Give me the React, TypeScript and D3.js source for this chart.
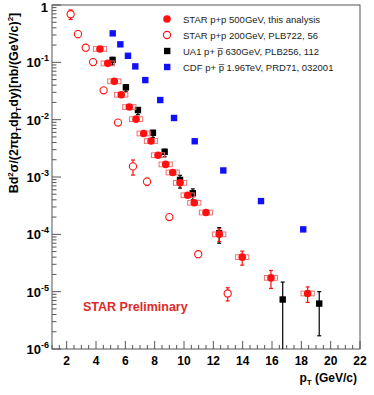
import React from "react";
import * as d3 from "d3";

// STAR p+p 500 GeV (filled red circles)
const star500Pt = [4.27, 4.8, 5.25, 5.72, 6.27, 6.73, 7.25, 7.75, 8.23, 8.75, 9.23, 9.73, 10.25, 10.7, 11.5, 12.4, 13.97, 15.93, 18.43];
const star500Y = [0.171, 0.096, 0.0466, 0.0272, 0.0166, 0.0102, 0.00575, 0.00424, 0.0024, 0.00166, 0.0012, 0.00079, 0.00048, 0.000355, 0.00024, 0.0001, 4.0e-5, 1.74e-5, 9.3e-6];
const star500Err = [0.01, 0.005, 0.002, 0.0012, 0.0007, 0.0004, 0.0002, 0.00015, 0.0001, 0.00007, 0.00005, 0.00004, 0.00003, 0.00002, 0.000015, 0.000025, 1.1e-5, 6e-6, 2.8e-6];

// STAR p+p 200 GeV (open red circles)
const star200Pt = [2.27, 2.77, 3.3, 3.8, 4.52, 5.5, 6.52, 7.48, 9.0, 10.97, 12.98];
const star200Y = [0.69, 0.31, 0.18, 0.101, 0.0325, 0.0089, 0.00153, 0.00083, 0.0002, 4.5e-5, 9.3e-6];
const star200Err = [0.13, 0.04, 0.01, 0.005, 0.0015, 0.0005, 0.00045, 0.00012, 0.00001, 2e-6, 2.4e-6];

// UA1 p+pbar 630 GeV (black squares)
const ua1Pt = [5.13, 6.04, 6.86, 7.88, 8.68, 9.73, 10.6, 12.4, 16.73, 19.22];
const ua1Y = [0.11, 0.0366, 0.0147, 0.0059, 0.00275, 0.00089, 0.00052, 0.000104, 7.3e-6, 6.2e-6];
const ua1ErrUp = [0.012, 0.004, 0.0016, 0.0006, 0.0003, 0.00018, 0.0001, 0.000027, 7.4e-6, 3.8e-6];
const ua1ErrDown = [0.02, 0.006, 0.0025, 0.001, 0.0005, 0.00025, 0.00012, 0.000034, 7.3e-6, 4.5e-6];

// CDF p+pbar 1.96 TeV (blue squares)
const cdfPt = [5.14, 5.66, 6.18, 6.68, 7.36, 8.38, 9.32, 10.73, 12.68, 15.25, 18.13];
const cdfY = [0.32, 0.206, 0.13, 0.085, 0.049, 0.022, 0.0107, 0.0042, 0.0013, 0.00038, 0.000122];

const xTicks = [2, 4, 6, 8, 10, 12, 14, 16, 18, 20, 22];
const yTicks = [0, -1, -2, -3, -4, -5, -6];

const legendLabels = [
  "STAR p+p 500GeV, this analysis",
  "STAR p+p 200GeV, PLB722, 56",
  "UA1 p+ p\u0305 630GeV, PLB256, 112",
  "CDF p+ p\u0305 1.96TeV, PRD71, 032001",
];

const W = 374;
const H = 395;
const left = 52, right = 360, top = 5, bottom = 349;
const font = "'Liberation Sans', Arial, sans-serif";
const red = "#ff1010";
const axisCol = "#555";

export default function App() {
  const x = d3.scaleLinear().domain([1, 22]).range([left, right]);
  const y = d3.scaleLog().domain([1e-6, 1]).range([bottom, top]).clamp(true);

  const minorX = d3.range(1, 22.01, 0.5).filter((v) => v % 2 !== 0);
  const minorY: number[] = [];
  for (let e = -6; e < 0; e++) for (let k = 2; k <= 9; k++) minorY.push(k * Math.pow(10, e));

  const box = (pt: number, v: number, key: string) => (
    <rect key={key} x={x(pt - 0.45)} y={y(v * 1.1)} width={x(pt + 0.45) - x(pt - 0.45)}
      height={y(v / 1.1) - y(v * 1.1)} fill="none" stroke="#f07070" strokeWidth={1} />
  );

  const vbar = (px: number, yUp: number, yDown: number, color: string, key: string) => (
    <g key={key} stroke={color} strokeWidth={1.2}>
      <line x1={px} x2={px} y1={y(yUp)} y2={y(Math.max(yDown, 1e-7))} />
      <line x1={px - 2} x2={px + 2} y1={y(yUp)} y2={y(yUp)} />
      {yDown > 1e-6 && <line x1={px - 2} x2={px + 2} y1={y(yDown)} y2={y(yDown)} />}
    </g>
  );

  return (
    <svg width={W} height={H} style={{ position: "absolute", left: 0, top: 0, background: "#fff" }} fontFamily={font}>
      <defs>
        <clipPath id="plot"><rect x={left} y={top} width={right - left} height={bottom - top} /></clipPath>
      </defs>
      {/* frame */}
      <rect x={left} y={top} width={right - left} height={bottom - top} fill="none" stroke={axisCol} strokeWidth={1} />

      {/* x ticks */}
      {xTicks.map((t) => (
        <g key={"xt" + t}>
          <line x1={x(t)} x2={x(t)} y1={bottom} y2={bottom - 8} stroke={axisCol} />
          <text x={x(t)} y={365} textAnchor="middle" fontSize={12} fontWeight="bold">{t}</text>
        </g>
      ))}
      {minorX.map((t) => (
        <line key={"xm" + t} x1={x(t)} x2={x(t)} y1={bottom} y2={bottom - 4} stroke={axisCol} />
      ))}

      {/* y ticks */}
      {yTicks.map((e) => (
        <g key={"yt" + e}>
          <line x1={left} x2={left + 9} y1={y(Math.pow(10, e))} y2={y(Math.pow(10, e))} stroke={axisCol} />
          {e === 0 ? (
            <text x={48} y={y(1) + 7} textAnchor="end" fontSize={13} fontWeight="bold">1</text>
          ) : (
            <text x={49} y={y(Math.pow(10, e)) + 5} textAnchor="end" fontSize={13} fontWeight="bold">
              10<tspan dy={-6} fontSize={9}>{e}</tspan>
            </text>
          )}
        </g>
      ))}
      {minorY.map((v, i) => (
        <line key={"ym" + i} x1={left} x2={left + 4.5} y1={y(v)} y2={y(v)} stroke={axisCol} />
      ))}

      {/* axis titles */}
      <text x={357} y={382} textAnchor="end" fontSize={12} fontWeight="bold">
        p<tspan dy={3} fontSize={8}>T</tspan><tspan dy={-3}> (GeV/c)</tspan>
      </text>
      <text transform="translate(18,103) rotate(-90)" textAnchor="middle" fontSize={12.5} fontWeight="bold">
        Bd<tspan dy={-5} fontSize={8}>2</tspan><tspan dy={5}>σ/(2πp</tspan><tspan dy={3} fontSize={8}>T</tspan>
        <tspan dy={-3}>dp</tspan><tspan dy={3} fontSize={8}>T</tspan><tspan dy={-3}>dy)[nb/(GeV/c)</tspan>
        <tspan dy={-5} fontSize={8}>2</tspan><tspan dy={5}>]</tspan>
      </text>

      <g clipPath="url(#plot)">
        {/* STAR 200 */}
        {star200Pt.map((pt, i) => (
          <g key={"s2" + i}>
            {vbar(x(pt), star200Y[i] + star200Err[i], star200Y[i] - star200Err[i], red, "s2e" + i)}
            <circle cx={x(pt)} cy={y(star200Y[i])} r={3.6} fill="#fff" stroke={red} strokeWidth={1.1} />
          </g>
        ))}
        {/* CDF */}
        {cdfPt.map((pt, i) => (
          <rect key={"cdf" + i} x={x(pt) - 3.2} y={y(cdfY[i]) - 3.2} width={6.4} height={6.4} fill="#1010ff" />
        ))}
        {/* UA1 */}
        {ua1Pt.map((pt, i) => (
          <g key={"ua" + i}>
            {vbar(x(pt), ua1Y[i] + ua1ErrUp[i], ua1Y[i] - ua1ErrDown[i], "#000", "uae" + i)}
            <rect x={x(pt) - 3.2} y={y(ua1Y[i]) - 3.2} width={6.4} height={6.4} fill="#000" />
          </g>
        ))}
        {/* STAR 500 */}
        {star500Pt.map((pt, i) => (
          <g key={"s5" + i}>
            {box(pt, star500Y[i], "s5b" + i)}
            {vbar(x(pt), star500Y[i] + star500Err[i], star500Y[i] - star500Err[i], red, "s5e" + i)}
            <circle cx={x(pt)} cy={y(star500Y[i])} r={3.8} fill={red} />
          </g>
        ))}
      </g>

      {/* legend */}
      {legendLabels.map((lab, i) => {
        const ly = 19 + i * 16;
        return (
          <g key={"lg" + i}>
            {i === 0 && <circle cx={167} cy={ly} r={3.8} fill={red} />}
            {i === 1 && <circle cx={167} cy={ly} r={3.6} fill="#fff" stroke={red} strokeWidth={1.1} />}
            {i === 2 && <rect x={164} y={ly - 3.2} width={6.4} height={6.4} fill="#000" />}
            {i === 3 && <rect x={164} y={ly - 3.2} width={6.4} height={6.4} fill="#1010ff" />}
            <text x={183} y={ly + 3.5} fontSize={9.5} fill="#222">{lab}</text>
          </g>
        );
      })}

      <text x={83} y={311} fontSize={12.5} fontWeight="bold" fill="#dd2a2a">STAR Preliminary</text>
    </svg>
  );
}
